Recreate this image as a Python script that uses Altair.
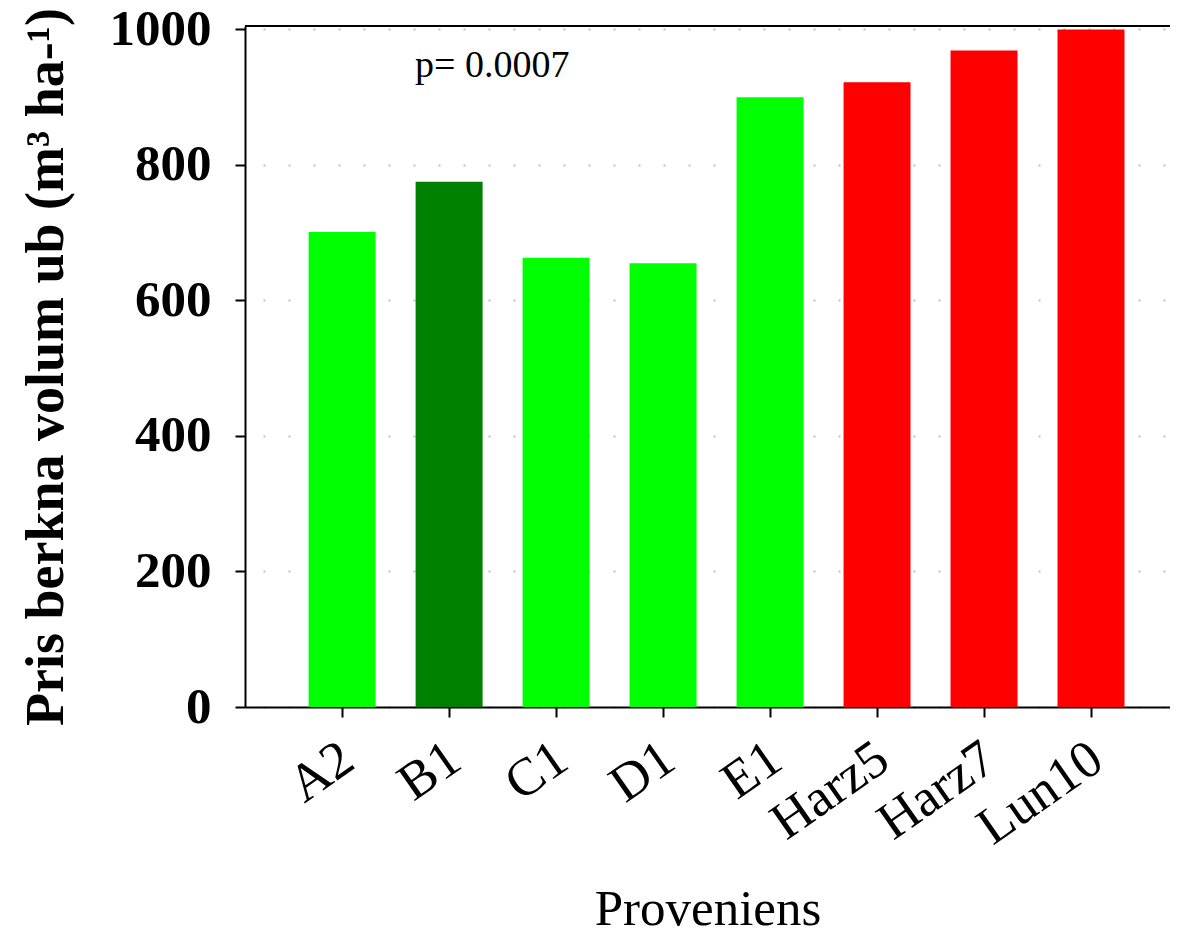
import altair as alt
import pandas as pd

categories = ["A2", "B1", "C1", "D1", "E1", "Harz5", "Harz7", "Lun10"]
values = [701, 775, 663, 655, 900, 922, 969, 1000]
groups = ["lys", "mørk", "lys", "lys", "lys", "rød", "rød", "rød"]

group_domain = ["lys", "mørk", "rød"]
group_colors = ["#00ff00", "#008000", "#ff0000"]

df = pd.DataFrame({"prov": categories, "val": values, "grp": groups})

W, H = 925, 681
FONT = "Liberation Serif"

x_enc = alt.X(
    "prov:N",
    sort=categories,
    scale=alt.Scale(paddingInner=0.374, paddingOuter=0.51, align=0.583),
    axis=alt.Axis(
        title="Proveniens",
        titleFont=FONT,
        titleFontSize=51,
        titleFontWeight="normal",
        titleColor="black",
        titlePadding=30,
        labelFont=FONT,
        labelFontSize=53,
        labelAngle=325,
        labelAlign="right",
        labelBaseline="middle",
        labelColor="black",
        labelPadding=36,
        labelOffset=6,
        tickSize=10,
        tickWidth=2,
        tickColor="black",
        domainColor="black",
        domainWidth=2,
        grid=False,
    ),
)

y_enc = alt.Y(
    "val:Q",
    scale=alt.Scale(domain=[0, 1005], nice=False),
    axis=alt.Axis(
        title="Pris berkna volum ub (m³ ha-¹)",
        titleFont=FONT,
        titleFontSize=54,
        titleFontWeight="bold",
        titleColor="black",
        titlePadding=36,
        labelFont=FONT,
        labelFontSize=51,
        labelFontWeight="bold",
        labelColor="black",
        labelPadding=24,
        values=[0, 200, 400, 600, 800, 1000],
        format="d",
        tickSize=10,
        tickWidth=2,
        tickColor="black",
        domainColor="black",
        domainWidth=2,
        grid=True,
        gridColor="#c0c0c0",
        gridWidth=2,
        gridDash=[2, 23],
        gridDashOffset=7,
    ),
)

bars = alt.Chart(df).mark_bar().encode(
    x=x_enc,
    y=y_enc,
    color=alt.Color("grp:N", scale=alt.Scale(domain=group_domain, range=group_colors), legend=None),
)

top_border = alt.Chart(df).mark_rule(color="black", strokeWidth=2).encode(
    x=alt.value(0), x2=alt.value(W), y=alt.value(0)
)

annot = alt.Chart(pd.DataFrame({"t": ["p= 0.0007"]})).mark_text(
    font=FONT, fontSize=38, align="left", baseline="alphabetic", color="black"
).encode(x=alt.value(170), y=alt.value(51), text="t:N")

chart = alt.layer(bars, top_border, annot).properties(
    width=W,
    height=H,
    autosize=alt.AutoSizeParams(type="none"),
    padding={"left": 237, "top": 18, "right": 0, "bottom": 233},
).configure_view(stroke=None).configure(background="white")

chart.save("out.html", embed_options={"renderer": "svg", "actions": False})
